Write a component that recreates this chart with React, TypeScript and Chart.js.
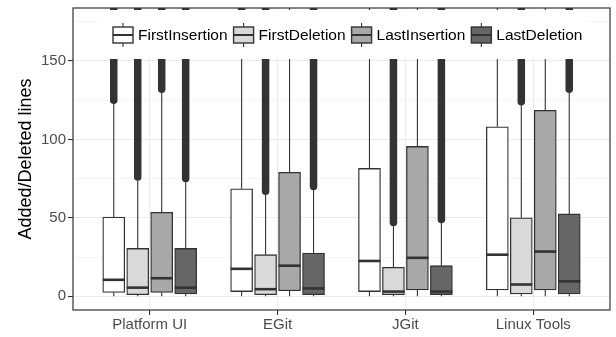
import React, { useEffect, useRef } from 'react';
import { Chart, registerables } from 'chart.js';
Chart.register(...registerables);

const FONT = "'Liberation Sans', Arial, Helvetica, sans-serif";
Chart.defaults.font.family = FONT;

// ---- data ----
const categories = ['Platform UI', 'EGit', 'JGit', 'Linux Tools'];
const seriesNames = ['FirstInsertion', 'FirstDeletion', 'LastInsertion', 'LastDeletion'];
const seriesColors = ['#FFFFFF', '#D9D9D9', '#A8A8A8', '#666666'];

const firstInsertionLower = [0, 0, 0, 0];
const firstInsertionQ1 = [2.5, 3, 3, 4];
const firstInsertionMedian = [10.5, 17.5, 22.5, 26.5];
const firstInsertionQ3 = [50.5, 68.5, 81.5, 108];
const firstInsertionUpper = [123, 166, 199, 264];
const firstInsertionOutlierFrom = [125, 168, null, null];

const firstDeletionLower = [0, 0, 0, 0];
const firstDeletionQ1 = [1, 1, 1, 1.5];
const firstDeletionMedian = [5.5, 4.5, 3, 7.5];
const firstDeletionQ3 = [30.5, 26.5, 18.5, 50];
const firstDeletionUpper = [74, 65, 45, 122];
const firstDeletionOutlierFrom = [76, 67, 47, 124];

const lastInsertionLower = [0, 0, 0, 0];
const lastInsertionQ1 = [2.5, 3.5, 4, 4];
const lastInsertionMedian = [11.5, 19.5, 24.5, 28.5];
const lastInsertionQ3 = [53.5, 79, 95.5, 118.5];
const lastInsertionUpper = [130, 192, 234, 290];
const lastInsertionOutlierFrom = [132, null, null, null];

const lastDeletionLower = [0, 0, 0, 0];
const lastDeletionQ1 = [1.5, 1, 1, 1.5];
const lastDeletionMedian = [5.5, 5, 3, 9.5];
const lastDeletionQ3 = [30.5, 27.5, 19.5, 52.5];
const lastDeletionUpper = [73, 68, 47, 130];
const lastDeletionOutlierFrom = [75, 70, 49, 132];

const outlierMax = 400; // outlier clouds run beyond the visible range

const yTicks = [0, 25, 50, 75, 100, 125, 150, 175];
const yLabelTicks = [0, 50, 100, 150];
const yMin = -8.75;
const yMax = 183.75;
const yTitle = 'Added/Deleted lines';

const stats = [
  { lower: firstInsertionLower, q1: firstInsertionQ1, median: firstInsertionMedian, q3: firstInsertionQ3, upper: firstInsertionUpper, outFrom: firstInsertionOutlierFrom },
  { lower: firstDeletionLower, q1: firstDeletionQ1, median: firstDeletionMedian, q3: firstDeletionQ3, upper: firstDeletionUpper, outFrom: firstDeletionOutlierFrom },
  { lower: lastInsertionLower, q1: lastInsertionQ1, median: lastInsertionMedian, q3: lastInsertionQ3, upper: lastInsertionUpper, outFrom: lastInsertionOutlierFrom },
  { lower: lastDeletionLower, q1: lastDeletionQ1, median: lastDeletionMedian, q3: lastDeletionQ3, upper: lastDeletionUpper, outFrom: lastDeletionOutlierFrom },
];

const DODGE = 0.75;
const slot = DODGE / seriesNames.length;
const dodgeOffset = (k: number) => (k - (seriesNames.length - 1) / 2) * slot;
const BOX_PX = 22;
const INK = '#333333';

function line(ctx: CanvasRenderingContext2D, x1: number, y1: number, x2: number, y2: number) {
  ctx.beginPath();
  ctx.moveTo(x1, y1);
  ctx.lineTo(x2, y2);
  ctx.stroke();
}

const boxPlugin = {
  id: 'boxExtras',
  beforeDatasetsDraw(chart: any) {
    const { ctx, chartArea: ca, scales } = chart;
    const x = scales.x, y = scales.y;
    ctx.save();
    ctx.beginPath();
    ctx.rect(ca.left, ca.top, ca.right - ca.left, ca.bottom - ca.top);
    ctx.clip();
    ctx.strokeStyle = INK;
    stats.forEach((s, k) => {
      categories.forEach((_, i) => {
        const px = x.getPixelForValue(i + 1 + dodgeOffset(k));
        ctx.lineWidth = 1.1;
        ctx.lineCap = 'butt';
        line(ctx, px, y.getPixelForValue(s.q3[i]), px, y.getPixelForValue(s.upper[i]));
        line(ctx, px, y.getPixelForValue(s.q1[i]), px, y.getPixelForValue(s.lower[i]));
        const of = s.outFrom[i];
        if (of != null) {
          ctx.lineWidth = 7.5;
          ctx.lineCap = 'round';
          line(ctx, px, y.getPixelForValue(of), px, y.getPixelForValue(outlierMax));
        }
      });
    });
    ctx.restore();
  },
  afterDatasetsDraw(chart: any) {
    const { ctx, chartArea: ca, scales } = chart;
    const x = scales.x, y = scales.y;
    ctx.save();
    ctx.beginPath();
    ctx.rect(ca.left, ca.top, ca.right - ca.left, ca.bottom - ca.top);
    ctx.clip();
    ctx.strokeStyle = INK;
    ctx.lineWidth = 2.6;
    stats.forEach((s, k) => {
      categories.forEach((_, i) => {
        const px = x.getPixelForValue(i + 1 + dodgeOffset(k));
        const py = y.getPixelForValue(s.median[i]);
        line(ctx, px - BOX_PX / 2, py, px + BOX_PX / 2, py);
      });
    });
    ctx.restore();
  },
  afterDraw(chart: any) {
    const { ctx, chartArea: ca } = chart;
    ctx.save();
    // legend inside panel
    const bg = { left: ca.left + 27, right: ca.right - 25, top: ca.top + 2, bottom: ca.top + 51 };
    ctx.fillStyle = '#FFFFFF';
    ctx.fillRect(bg.left, bg.top, bg.right - bg.left, bg.bottom - bg.top);
    ctx.font = `15.5px ${FONT}`;
    ctx.textBaseline = 'middle';
    ctx.textAlign = 'left';
    const cy = ca.top + 27;
    let lx = bg.left + 13;
    seriesNames.forEach((name, k) => {
      ctx.strokeStyle = INK;
      ctx.lineWidth = 1.1;
      line(ctx, lx + 10, cy - 12, lx + 10, cy + 12);
      ctx.fillStyle = seriesColors[k];
      ctx.fillRect(lx, cy - 8, 20, 16);
      ctx.lineWidth = 1.4;
      ctx.strokeRect(lx, cy - 8, 20, 16);
      ctx.lineWidth = 2;
      line(ctx, lx, cy, lx + 20, cy);
      ctx.fillStyle = '#000000';
      ctx.fillText(name, lx + 25, cy + 1);
      lx += 25 + ctx.measureText(name).width + 6;
    });
    // panel border
    ctx.strokeStyle = INK;
    ctx.lineWidth = 1.2;
    ctx.strokeRect(ca.left, ca.top, ca.right - ca.left, ca.bottom - ca.top);
    ctx.restore();
  },
};

export default function App() {
  const ref = useRef<HTMLCanvasElement>(null);
  useEffect(() => {
    if (!ref.current) return;
    const datasets = stats.map((s, k) => ({
      label: seriesNames[k],
      data: categories.map((_, i) => ({ x: i + 1 + dodgeOffset(k), y: [s.q1[i], s.q3[i]] })),
      backgroundColor: seriesColors[k],
      borderColor: INK,
      borderWidth: 1.3,
      borderSkipped: false,
      barThickness: BOX_PX,
      grouped: false,
    }));
    const chart = new Chart(ref.current, {
      type: 'bar',
      data: { datasets: datasets as any },
      plugins: [boxPlugin],
      options: {
        animation: false,
        responsive: false,
        maintainAspectRatio: false,
        layout: { padding: { top: 8, right: 6, left: 0, bottom: 0 } },
        plugins: { legend: { display: false }, tooltip: { enabled: false } },
        scales: {
          x: {
            type: 'linear',
            min: 0.4,
            max: 4.6,
            offset: false,
            afterBuildTicks: (s: any) => { s.ticks = categories.map((_, i) => ({ value: i + 1 })); },
            afterFit: (s: any) => { s.height = 27; s.paddingLeft = 0; s.paddingRight = 0; },
            ticks: {
              callback: (v: any) => categories[Math.round(Number(v)) - 1] ?? '',
              color: '#4D4D4D',
              font: { size: 15, family: FONT },
              padding: 1,
              maxRotation: 0,
              autoSkip: false,
            },
            grid: { color: '#EBEBEB', lineWidth: 1.1, tickColor: INK, tickLength: 5, tickWidth: 1.1, offset: false },
            border: { display: false },
          },
          y: {
            type: 'linear',
            min: yMin,
            max: yMax,
            afterBuildTicks: (s: any) => { s.ticks = yTicks.map((v) => ({ value: v })); },
            afterFit: (s: any) => { s.width = 73; s.paddingTop = 0; s.paddingBottom = 0; },
            ticks: {
              callback: (v: any) => (yLabelTicks.includes(Number(v)) ? String(v) : ''),
              color: '#4D4D4D',
              font: { size: 15, family: FONT },
              padding: 2,
            },
            grid: {
              color: (c: any) => (yLabelTicks.includes(c.tick?.value) ? '#EBEBEB' : '#F2F2F2'),
              lineWidth: (c: any) => (yLabelTicks.includes(c.tick?.value) ? 1.1 : 0.7),
              tickColor: (c: any) => (yLabelTicks.includes(c.tick?.value) ? INK : 'rgba(0,0,0,0)'),
              tickLength: 5,
              tickWidth: 1.1,
            },
            border: { display: false },
            title: {
              display: true,
              text: yTitle,
              color: '#000000',
              font: { size: 18, family: FONT },
              padding: { top: 15, bottom: 0 },
            },
          },
        },
      } as any,
    });
    return () => chart.destroy();
  }, []);
  return (
    <div style={{ position: 'absolute', left: 0, top: 0, width: 616, height: 337, background: '#FFFFFF' }}>
      <canvas ref={ref} width={616} height={337} style={{ display: 'block' }} />
    </div>
  );
}
